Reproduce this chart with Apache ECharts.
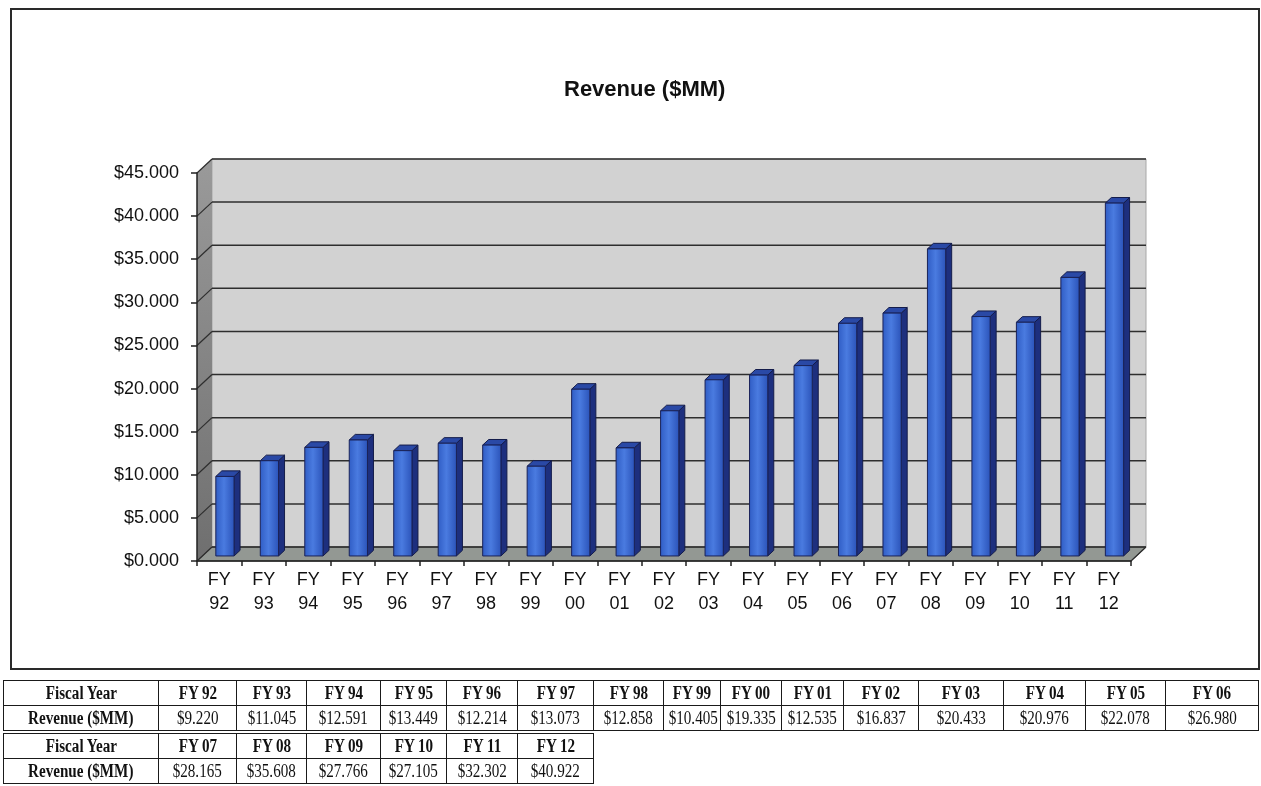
<!DOCTYPE html>
<html>
<head>
<meta charset="utf-8">
<script src="https://cdn.jsdelivr.net/npm/echarts@6/dist/echarts.min.js"></script>
<style>
  html, body { margin: 0; padding: 0; background: #fff; }
  #wrap { position: relative; width: 1261px; height: 786px; overflow: hidden; }
  #frame { position: absolute; left: 10px; top: 8px; width: 1246px; height: 658px; border: 2px solid #2a2a2a; }
  #chart { position: absolute; left: 0; top: 0; width: 1261px; height: 786px; }
  table { position: absolute; border-collapse: collapse; table-layout: fixed; font-family: "Liberation Serif", "Times New Roman", serif; color: #111; }
  td { border: 1.5px solid #1a1a1a; text-align: center; padding: 0; height: 24px; font-size: 18px; white-space: nowrap; overflow: hidden; }
  td span { display: inline-block; transform: scaleX(0.84); transform-origin: 50% 50%; }
  td.h { font-weight: bold; }
  td.v { font-weight: normal; }
</style>
</head>
<body>
<div id="wrap">
  <div id="frame"></div>
  <div id="chart"></div>
  <table id="t1"></table>
  <table id="t2"></table>
</div>
<script>
// ---- data ----
const categories = ['FY 92','FY 93','FY 94','FY 95','FY 96','FY 97','FY 98','FY 99','FY 00','FY 01','FY 02','FY 03','FY 04','FY 05','FY 06','FY 07','FY 08','FY 09','FY 10','FY 11','FY 12'];
const revenue = [9.220, 11.045, 12.591, 13.449, 12.214, 13.073, 12.858, 10.405, 19.335, 12.535, 16.837, 20.433, 20.976, 22.078, 26.980, 28.165, 35.608, 27.766, 27.105, 32.302, 40.922];
const yMin = 0, yMax = 45, yStep = 5;
const titleText = 'Revenue ($MM)';
const rowHeaderYear = 'Fiscal Year';
const rowHeaderRev = 'Revenue ($MM)';

// ---- style constants ----
const DX = 15, DY = -14;           // depth offset of the back wall
const LABEL_FONT = '"Liberation Sans", Arial, sans-serif';

function fmtMoney(v) { return '$' + v.toFixed(3); }

function renderWalls(params, api) {
  const cs = params.coordSys;
  const x0 = cs.x, x1 = cs.x + cs.width, yT = cs.y, yB = cs.y + cs.height;
  const ch = [];
  ch.push({ type: 'rect', shape: { x: x0 + DX, y: yT + DY, width: cs.width, height: cs.height },
    style: { fill: '#d2d2d2', stroke: '#a8a8a8', lineWidth: 1 } });
  ch.push({ type: 'polygon', shape: { points: [[x0, yT], [x0 + DX, yT + DY], [x0 + DX, yB + DY], [x0, yB]] },
    style: { fill: new echarts.graphic.LinearGradient(0, 0, 0, 1, [{ offset: 0, color: '#9a9a9a' }, { offset: 1, color: '#6f6f6f' }]) } });
  ch.push({ type: 'polygon', shape: { points: [[x0, yB], [x1, yB], [x1 + DX, yB + DY], [x0 + DX, yB + DY]] },
    style: { fill: '#939893', stroke: '#3a3a3a', lineWidth: 1 } });
  for (let v = yMin; v <= yMax; v += yStep) {
    const y = api.coord([0, v])[1];
    ch.push({ type: 'line', shape: { x1: x0 + DX, y1: y + DY, x2: x1 + DX, y2: y + DY }, style: { stroke: '#2e2e2e', lineWidth: 1.5 } });
    ch.push({ type: 'line', shape: { x1: x0, y1: y, x2: x0 + DX, y2: y + DY }, style: { stroke: '#2e2e2e', lineWidth: 1.2 } });
  }
  ch.push({ type: 'line', shape: { x1: x1, y1: yB, x2: x1 + DX, y2: yB + DY }, style: { stroke: '#2e2e2e', lineWidth: 1.2 } });
  return { type: 'group', children: ch };
}

function renderBar(params, api) {
  const i = api.value(0), v = api.value(1);
  const top = api.coord([i, v]), base = api.coord([i, 0]);
  const band = api.size([1, 0])[0];
  const w = band * 0.41;
  const ox = DX * 0.38, oy = DY * 0.36;
  const dx = DX * 0.4, dy = DY * 0.4;
  const xl = top[0] - w / 2 + ox, xr = xl + w, yt = top[1] + oy, yb = base[1] + oy;
  return { type: 'group', children: [
    { type: 'polygon', shape: { points: [[xr, yt], [xr + dx, yt + dy], [xr + dx, yb + dy], [xr, yb]] },
      style: { fill: '#1d2f7e', stroke: '#141c4a', lineWidth: 1 } },
    { type: 'polygon', shape: { points: [[xl, yt], [xl + dx, yt + dy], [xr + dx, yt + dy], [xr, yt]] },
      style: { fill: '#2a49a6', stroke: '#141c4a', lineWidth: 1 } },
    { type: 'rect', shape: { x: xl, y: yt, width: w, height: yb - yt },
      style: { fill: new echarts.graphic.LinearGradient(0, 0, 1, 0, [{ offset: 0, color: '#2f5cc4' }, { offset: 0.45, color: '#4a7be0' }, { offset: 1, color: '#2a52b8' }]),
        stroke: '#1a2258', lineWidth: 1 } }
  ] };
}

const chart = echarts.init(document.getElementById('chart'), null, { renderer: 'canvas' });
chart.setOption({
  animation: false,
  backgroundColor: 'transparent',
  title: { text: titleText, left: 559, top: 74,
    textStyle: { fontFamily: LABEL_FONT, fontWeight: 'bold', fontSize: 22, color: '#111' } },
  grid: { left: 197, right: 130, top: 173, bottom: 225, containLabel: false },
  xAxis: {
    type: 'category', data: categories,
    axisLine: { show: true, lineStyle: { color: '#222', width: 1.5 } },
    axisTick: { show: true, length: 5, lineStyle: { color: '#222', width: 1.5 } },
    axisLabel: { interval: 0, margin: 7, fontFamily: LABEL_FONT, fontSize: 18, lineHeight: 24, color: '#111',
      formatter: s => s.replace(' ', '\n') },
    splitLine: { show: false }, z: 5
  },
  yAxis: {
    type: 'value', min: yMin, max: yMax, interval: yStep,
    axisLine: { show: true, lineStyle: { color: '#222', width: 1.5 } },
    axisTick: { show: true, length: 6, lineStyle: { color: '#222', width: 1.5 } },
    axisLabel: { margin: 18, fontFamily: LABEL_FONT, fontSize: 18, color: '#111', formatter: v => fmtMoney(v),
      padding: [0, 0, 5, 0] },
    splitLine: { show: false }, z: 5
  },
  series: [
    { type: 'custom', name: 'walls', renderItem: renderWalls, data: [[0, 0]], silent: true, z: 1, clip: false },
    { type: 'custom', name: 'Revenue', renderItem: renderBar, silent: true, z: 3, clip: false,
      data: revenue.map((v, i) => [i, v]) }
  ]
});

// ---- data table ----
const colW = [155, 78, 70, 74, 66, 71, 76, 70, 57, 61, 62, 75, 85, 82, 80, 93];
function cell(cls, txt) { return '<td class="' + cls + '"><span>' + txt + '</span></td>'; }
function buildTable(el, cats, vals, left, top) {
  el.style.left = left + 'px';
  el.style.top = top + 'px';
  const n = cats.length + 1;
  let w = 0; for (let k = 0; k < n; k++) w += colW[k];
  el.style.width = w + 'px';
  let html = '<colgroup>' + colW.slice(0, n).map(c => '<col style="width:' + c + 'px">').join('') + '</colgroup>';
  html += '<tr>' + cell('h', rowHeaderYear) + cats.map(c => cell('h', c)).join('') + '</tr>';
  html += '<tr>' + cell('h', rowHeaderRev) + vals.map(v => cell('v', fmtMoney(v))).join('') + '</tr>';
  el.innerHTML = html;
}
buildTable(document.getElementById('t1'), categories.slice(0, 15), revenue.slice(0, 15), 3, 680);
buildTable(document.getElementById('t2'), categories.slice(15), revenue.slice(15), 3, 733);
</script>
</body>
</html>
